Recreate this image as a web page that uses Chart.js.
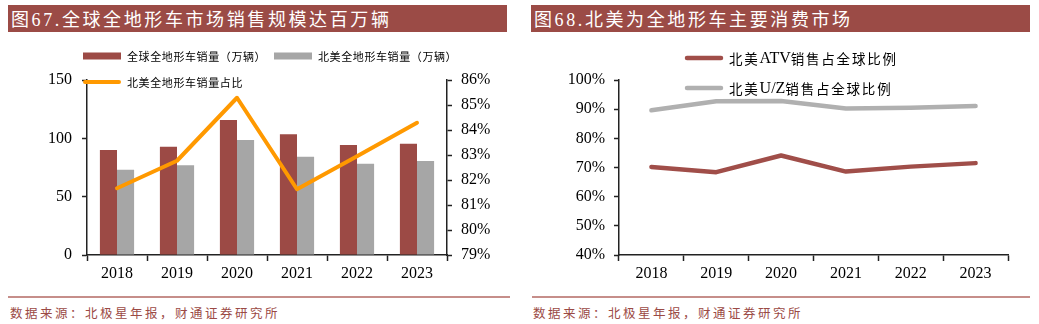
<!DOCTYPE html>
<html>
<head>
<meta charset="utf-8">
<script src="https://cdn.jsdelivr.net/npm/chart.js@4"></script>
<style>
  body { margin: 0; width: 1039px; height: 324px; background: #fff; position: relative; overflow: hidden; }
  .title { position: absolute; top: 5px; height: 27px; line-height: 27px; background: #9b4b46; color: #fff;
           font: 18px "Liberation Serif", "Noto Sans CJK SC"; letter-spacing: 2.6px; padding-left: 3px; box-sizing: border-box; }
  .rule { position: absolute; top: 296px; height: 1.5px; background: #c68e8a; }
  .source { position: absolute; top: 303px; color: #9b4a45; font: 12.5px "Noto Sans CJK SC"; letter-spacing: 2.5px; }
  canvas { position: absolute; top: 40px; }
</style>
</head>
<body>
<div class="title" style="left:8px;width:499px;">图67.全球全地形车市场销售规模达百万辆</div>
<div class="title" style="left:531px;width:499px;">图68.北美为全地形车主要消费市场</div>
<canvas id="salesChart" width="520" height="250" style="left:0;"></canvas>
<canvas id="shareChart" width="519" height="250" style="left:520px;"></canvas>
<div class="rule" style="left:8px;width:502px;"></div>
<div class="rule" style="left:532px;width:498px;"></div>
<div class="source" style="left:10px;">数据来源：北极星年报，财通证券研究所</div>
<div class="source" style="left:533px;">数据来源：北极星年报，财通证券研究所</div>
<script>
// Chart data
const years = ['2018', '2019', '2020', '2021', '2022', '2023'];
const globalSales = [90, 92.8, 115.7, 103.4, 94.3, 95.4];     // 万辆
const naSales = [73.1, 76.9, 98.6, 84.3, 78.3, 80.6];         // 万辆
const naShare = [81.67, 82.77, 85.29, 81.63, 82.95, 84.29];   // %
const atvShare = [70.2, 68.4, 74.1, 68.6, 70.3, 71.5];        // %
const uzShare = [89.6, 92.7, 92.8, 90.2, 90.5, 91.1];         // %

const volumeTicks = [0, 50, 100, 150];
const naShareTicks = [79, 80, 81, 82, 83, 84, 85, 86];
const regionShareTicks = [40, 50, 60, 70, 80, 90, 100];

const RED = '#9c4a45';
const GRAY = '#a6a6a6';
const ORANGE = '#ff9900';
const AXIS = '#222';
const tickFont = { family: '"Liberation Serif", "Times New Roman", serif', size: 16 };

// Legend drawn at fixed spots so it can overlap the plot like the original.
// CJK glyphs get extra spacing, latin runs (ATV, U/Z) are drawn plain and a bit larger.
const fixedLegend = {
    id: 'fixedLegend',
    afterDraw(chart, args, opts) {
        const ctx = chart.ctx;
        ctx.save();
        ctx.textBaseline = 'middle';
        opts.items.forEach(it => {
            const ds = chart.data.datasets[it.index];
            if (it.type === 'rect') {
                ctx.fillStyle = ds.backgroundColor;
                ctx.fillRect(it.x, it.y - 3.5, 38, 7);
            } else {
                ctx.strokeStyle = ds.borderColor;
                ctx.lineWidth = ds.borderWidth;
                ctx.lineCap = 'round';
                ctx.beginPath();
                ctx.moveTo(it.x + 2, it.y);
                ctx.lineTo(it.x + 36, it.y);
                ctx.stroke();
            }
            ctx.fillStyle = '#000';
            let x = it.x + 44;
            const runs = ds.label.match(/[A-Za-z\/]+|[^A-Za-z\/]+/g);
            runs.forEach(run => {
                const latin = /^[A-Za-z\/]+$/.test(run);
                ctx.font = latin ? opts.latinFont : opts.font;
                if ('letterSpacing' in ctx) ctx.letterSpacing = latin ? '0px' : opts.spacing;
                ctx.fillText(run, x, it.y + 0.5);
                x += ctx.measureText(run).width;
            });
        });
        ctx.restore();
    }
};

function yAxis(ticks, position, width, pad, fmt) {
    return {
        position: position,
        min: ticks[0],
        max: ticks[ticks.length - 1],
        ticks: { stepSize: ticks[1] - ticks[0], color: '#000', font: tickFont, padding: pad, callback: fmt },
        grid: { drawOnChartArea: false, drawTicks: true, tickLength: 5, tickColor: AXIS, tickWidth: 1.5 },
        border: { display: true, color: AXIS, width: 1.5 },
        afterFit: s => { s.width = width; }
    };
}

const xAxis = {
    offset: true,
    ticks: { color: '#000', font: tickFont, padding: 3 },
    grid: { offset: true, drawOnChartArea: false, drawTicks: true, tickLength: 6, tickColor: AXIS, tickWidth: 1.5 },
    border: { display: true, color: AXIS, width: 1.5 },
    afterFit: s => { s.height = 35; }
};

new Chart(document.getElementById('salesChart'), {
    type: 'bar',
    data: {
        labels: years,
        datasets: [
            {
                type: 'line', label: '北美全地形车销量占比', data: naShare, yAxisID: 'yShare', order: 0,
                borderColor: ORANGE, backgroundColor: ORANGE, borderWidth: 4, pointRadius: 0,
                borderJoinStyle: 'round', borderCapStyle: 'round', tension: 0
            },
            {
                label: '全球全地形车销量（万辆）', data: globalSales, yAxisID: 'y', order: 1,
                backgroundColor: RED, categoryPercentage: 0.57, barPercentage: 1
            },
            {
                label: '北美全地形车销量（万辆）', data: naSales, yAxisID: 'y', order: 2,
                backgroundColor: GRAY, categoryPercentage: 0.57, barPercentage: 1
            }
        ]
    },
    options: {
        responsive: false,
        animation: false,
        layout: { padding: { top: 40, left: 0, right: 0, bottom: 0 } },
        scales: {
            x: xAxis,
            y: yAxis(volumeTicks, 'left', 87, 10, v => v),
            yShare: yAxis(naShareTicks, 'right', 73, 9, v => v + '%')
        },
        plugins: {
            legend: { display: false },
            tooltip: { enabled: false },
            fixedLegend: {
                font: '11px "Noto Sans CJK SC"',
                latinFont: '12px "Liberation Serif"',
                spacing: '0.6px',
                items: [
                    { index: 1, type: 'rect', x: 83, y: 16 },
                    { index: 2, type: 'rect', x: 274, y: 16 },
                    { index: 0, type: 'line', x: 83, y: 42 }
                ]
            }
        }
    },
    plugins: [fixedLegend]
});

new Chart(document.getElementById('shareChart'), {
    type: 'line',
    data: {
        labels: years,
        datasets: [
            {
                label: '北美ATV销售占全球比例', data: atvShare,
                borderColor: '#a04e49', backgroundColor: '#a04e49', borderWidth: 4.5, pointRadius: 0,
                borderJoinStyle: 'round', borderCapStyle: 'round', tension: 0
            },
            {
                label: '北美U/Z销售占全球比例', data: uzShare,
                borderColor: '#b0b0b0', backgroundColor: '#b0b0b0', borderWidth: 4.5, pointRadius: 0,
                borderJoinStyle: 'round', borderCapStyle: 'round', tension: 0
            }
        ]
    },
    options: {
        responsive: false,
        animation: false,
        layout: { padding: { top: 40, left: 0, right: 31, bottom: 0 } },
        scales: {
            x: xAxis,
            y: yAxis(regionShareTicks, 'left', 99, 9, v => v + '%')
        },
        plugins: {
            legend: { display: false },
            tooltip: { enabled: false },
            fixedLegend: {
                font: '13.5px "Noto Sans CJK SC"',
                latinFont: '16px "Liberation Serif"',
                spacing: '1.8px',
                items: [
                    { index: 0, type: 'line', x: 165, y: 18 },
                    { index: 1, type: 'line', x: 165, y: 48 }
                ]
            }
        }
    },
    plugins: [fixedLegend]
});
</script>
</body>
</html>
